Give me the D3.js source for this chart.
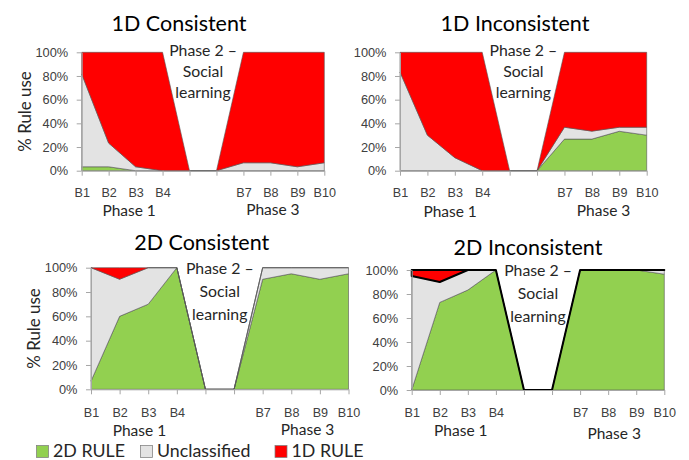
<!DOCTYPE html>
<html>
<head>
<meta charset="utf-8">
<script src="https://cdn.jsdelivr.net/npm/d3@7"></script>
<style>
  body { margin: 0; background: #fff; }
  svg { display: block; font-family: 'Lato', sans-serif; }
  .tick text { fill: #404040; }
  .domain, .tick line { stroke: #a6a6a6; }
</style>
</head>
<body>
<svg class="chart"></svg>
<script>
var categories = ['B1', 'B2', 'B3', 'B4', 'B5', 'B6', 'B7', 'B8', 'B9', 'B10'];
var tickLabels = ['B1', 'B2', 'B3', 'B4', '', '', 'B7', 'B8', 'B9', 'B10'];
var yTicks = [0, 20, 40, 60, 80, 100];
var seriesNames = ['2D RULE', 'Unclassified', '1D RULE'];
var seriesColors = ['#92d050', '#e3e3e3', '#ff0000'];
var panelTitles = ['1D Consistent', '1D Inconsistent', '2D Consistent', '2D Inconsistent'];

// % of participants per block, one array per rule
var oneDCon2D = [3.3, 3.3, 0, 0, 0, 0, 0, 0, 0, 0];
var oneDConUncl = [78.4, 20, 3.3, 0, 0, 0, 6.7, 6.7, 3.3, 6.7];
var oneDCon1D = [18.3, 76.7, 96.7, 100, 0, 0, 93.3, 93.3, 96.7, 93.3];

var oneDInc2D = [0, 0, 0, 0, 0, 0, 26.7, 26.7, 33.3, 30];
var oneDIncUncl = [83.3, 30, 11, 0, 0, 0, 10, 6.7, 3.4, 6.7];
var oneDInc1D = [16.7, 70, 89, 100, 0, 0, 63.3, 66.6, 63.3, 63.3];

var twoDCon2D = [6.7, 60, 70, 100, 0, 0, 90.5, 95, 90.5, 95];
var twoDConUncl = [93.3, 30.5, 30, 0, 0, 0, 9.5, 5, 9.5, 5];
var twoDCon1D = [0, 9.5, 0, 0, 0, 0, 0, 0, 0, 0];

var twoDInc2D = [0, 73, 83.3, 100, 0, 0, 100, 100, 100, 96.5];
var twoDIncUncl = [95, 17, 16.7, 0, 0, 0, 0, 0, 0, 3.5];
var twoDInc1D = [5, 10, 0, 0, 0, 0, 0, 0, 0, 0];

var panels = [
  {title: panelTitles[0], series: [oneDCon2D, oneDConUncl, oneDCon1D],
   left: 81.7, right: 324.3, top: 52.3, bottom: 170.7, titleX: 179, titleY: 23,
   yTitleX: 25, bOff: 22, ph1Off: 39.8, ph3Off: 38.5, ph1dx: 7, ph3dx: -11,
   ph2First: -2.3, ph2Step: 21.3, heavy: false},
  {title: panelTitles[1], series: [oneDInc2D, oneDIncUncl, oneDInc1D],
   left: 400, right: 646.7, top: 52.3, bottom: 170.7, titleX: 515, titleY: 23,
   yTitleX: null, bOff: 22, ph1Off: 41, ph3Off: 39.5, ph1dx: 9, ph3dx: -2,
   ph2First: -2.3, ph2Step: 21.3, heavy: false},
  {title: panelTitles[2], series: [twoDCon2D, twoDConUncl, twoDCon1D],
   left: 91, right: 348.5, top: 267.7, bottom: 389.3, titleX: 201.7, titleY: 242,
   yTitleX: 33.7, bOff: 23.2, ph1Off: 41, ph3Off: 39.8, ph1dx: 5.5, ph3dx: 2,
   ph2First: 0.6, ph2Step: 22.8, heavy: false},
  {title: panelTitles[3], series: [twoDInc2D, twoDIncUncl, twoDInc1D],
   left: 411.7, right: 664.3, top: 270, bottom: 390, titleX: 528, titleY: 247,
   yTitleX: null, bOff: 22, ph1Off: 40.3, ph3Off: 43, ph1dx: 7, ph3dx: -8,
   ph2First: 0.5, ph2Step: 22.8, heavy: true},
];

var chartWidth = 689;
var chartHeight = 460;

var chart = d3.select('.chart').attr('width', chartWidth).attr('height', chartHeight);

function drawPanel(p) {
  var x = d3.scalePoint().domain(categories).range([p.left, p.right]);
  var y = d3.scaleLinear().domain([0, 100]).range([p.bottom, p.top]);

  var rows = categories.map((c, i) => {
    var row = {cat: c};
    seriesNames.forEach((s, k) => { row[s] = p.series[k][i]; });
    return row;
  });
  var stacked = d3.stack().keys(seriesNames)(rows);

  var area = d3.area()
      .x(d => x(d.data.cat))
      .y0(d => y(d[0]))
      .y1(d => y(d[1]));

  var g = chart.append('g').attr('class', 'panel');

  g.selectAll('path.layer')
      .data(stacked)
      .join('path')
      .attr('class', 'layer')
      .attr('d', area)
      .style('fill', (d, i) => seriesColors[i])
      .style('stroke', (d, i) => (p.heavy && i === 2) ? '#000' : '#555')
      .style('stroke-width', (d, i) => (p.heavy && i === 2) ? 2 : 0.6)
      .style('stroke-linejoin', 'round');

  // Phase 2 label over the gap
  var mid = (x('B5') + x('B6')) / 2;
  var lines = ['Phase 2 \u2013', 'Social', 'learning'];
  g.append('g').selectAll('text')
      .data(lines)
      .join('text')
      .attr('x', mid)
      .attr('y', (d, i) => p.top + p.ph2First + i * p.ph2Step)
      .attr('dy', '0.36em')
      .attr('text-anchor', 'middle')
      .style('font-size', '15.8px')
      .style('fill', '#262626')
      .text(d => d);

  g.append('g')
      .attr('transform', 'translate(0,' + p.bottom + ')')
      .call(d3.axisBottom(x).tickSize(5).tickSizeOuter(0)
                .tickFormat((d, i) => tickLabels[i]))
      .call(a => a.selectAll('text').style('font-size', '12.6px').attr('dy', '0.36em').attr('y', p.bOff));

  g.append('g')
      .attr('transform', 'translate(' + p.left + ',0)')
      .call(d3.axisLeft(y).tickValues(yTicks).tickSize(5).tickSizeOuter(0).tickPadding(8.5)
                .tickFormat(d => d + '%'))
      .call(a => a.selectAll('text').style('font-size', '12.8px'));

  g.append('text')
      .attr('x', p.titleX)
      .attr('y', p.titleY)
      .attr('dy', '0.36em')
      .attr('text-anchor', 'middle')
      .style('font-size', '21.5px')
      .style('fill', '#000')
      .text(p.title);

  var ph1x = (x('B1') + x('B4')) / 2 + p.ph1dx;
  var ph3x = (x('B7') + x('B10')) / 2 + p.ph3dx;
  g.append('text')
      .attr('x', ph1x).attr('y', p.bottom + p.ph1Off).attr('dy', '0.36em')
      .attr('text-anchor', 'middle').style('font-size', '15.5px').style('fill', '#262626')
      .text('Phase 1');
  g.append('text')
      .attr('x', ph3x).attr('y', p.bottom + p.ph3Off).attr('dy', '0.36em')
      .attr('text-anchor', 'middle').style('font-size', '15.5px').style('fill', '#262626')
      .text('Phase 3');

  if (p.yTitleX !== null) {
    g.append('text')
        .attr('transform', 'translate(' + p.yTitleX + ',' + (p.top + p.bottom) / 2 + ') rotate(-90)')
        .attr('dy', '0.36em')
        .attr('text-anchor', 'middle')
        .style('font-size', '16.9px')
        .style('fill', '#262626')
        .text('% Rule use');
  }
}

panels.forEach(drawPanel);

// Legend
var legendX = [36.5, 140.5, 275];
var legend = chart.append('g').attr('class', 'legend');
var items = legend.selectAll('g')
    .data(seriesNames)
    .join('g')
    .attr('transform', (d, i) => 'translate(' + legendX[i] + ',445.5)');
items.append('rect')
    .attr('width', 12)
    .attr('height', 12)
    .style('fill', (d, i) => seriesColors[i])
    .style('stroke', '#7f7f7f')
    .style('stroke-width', 0.75);
items.append('text')
    .attr('x', 16.5)
    .attr('y', 5)
    .attr('dy', '0.36em')
    .style('font-size', '17.8px')
    .style('fill', '#262626')
    .text(d => d);
</script>
</body>
</html>
